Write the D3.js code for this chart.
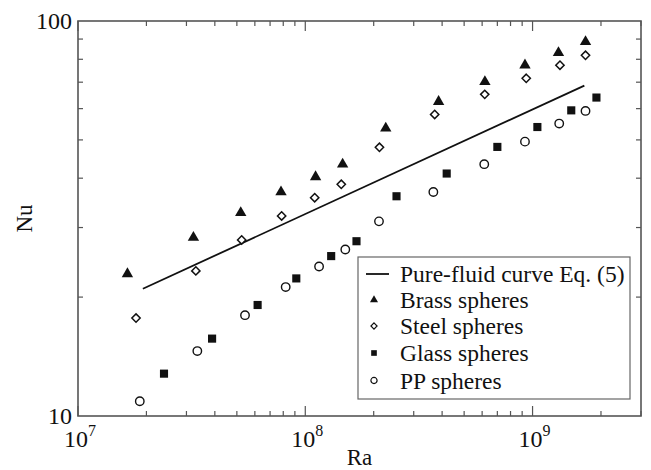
<!DOCTYPE html>
<html>
<head>
<meta charset="utf-8">
<script src="https://cdn.jsdelivr.net/npm/d3@7"></script>
<style>
  body { margin: 0; background: #fff; }
  text { font-family: "Liberation Serif", "Times New Roman", serif; fill: #111; }
</style>
</head>
<body>
<svg id="chart" width="651" height="470"></svg>
<script>
// values
var brassRa = [1.65e7, 3.22e7, 5.20e7, 7.82e7, 1.11e8, 1.46e8, 2.26e8, 3.86e8, 6.17e8, 9.26e8, 1.30e9, 1.71e9],
    brassNu = [22.9, 28.3, 32.7, 36.9, 40.3, 43.4, 53.5, 62.5, 70.2, 77.3, 83.1, 88.6];
var steelRa = [1.80e7, 3.30e7, 5.25e7, 7.87e7, 1.10e8, 1.44e8, 2.12e8, 3.71e8, 6.16e8, 9.38e8, 1.32e9, 1.71e9],
    steelNu = [17.7, 23.3, 27.9, 32.1, 35.7, 38.6, 47.9, 58.0, 65.2, 71.6, 77.3, 81.9];
var glassRa = [2.39e7, 3.89e7, 6.17e7, 9.13e7, 1.30e8, 1.68e8, 2.52e8, 4.19e8, 7.0e8, 1.05e9, 1.48e9, 1.91e9],
    glassNu = [12.8, 15.7, 19.1, 22.3, 25.4, 27.7, 36.0, 41.1, 48.0, 53.9, 59.4, 64.0];
var ppRa = [1.87e7, 3.35e7, 5.43e7, 8.20e7, 1.15e8, 1.50e8, 2.11e8, 3.66e8, 6.13e8, 9.26e8, 1.31e9, 1.71e9],
    ppNu = [10.9, 14.6, 18.0, 21.2, 23.9, 26.4, 31.1, 36.9, 43.4, 49.5, 55.0, 59.2];
var curveRa = [1.93e7, 1.69e9],
    curveNu = [21.0, 68.6];

var xMajor = [1e7, 1e8, 1e9], xMajorExp = ["7", "8", "9"];
var yMajor = [10, 100], yLabels = ["10", "100"];
var legendLabels = ["Pure-fluid curve Eq. (5)", "Brass spheres", "Steel spheres", "Glass spheres", "PP spheres"];

var svg = d3.select("#chart"),
    margin = {top: 21, right: 10, bottom: 54, left: 78},
    width = +svg.attr("width") - margin.left - margin.right,
    height = +svg.attr("height") - margin.top - margin.bottom;

var x = d3.scaleLog().domain([1e7, 3e9]).range([0, width]),
    y = d3.scaleLog().domain([10, 100]).range([height, 0]);

var g = svg.append("g")
    .attr("transform", "translate(" + margin.left + "," + margin.top + ")");

// minor ticks
var xMinor = [];
[1e7, 1e8, 1e9].forEach(function(d) {
  for (var k = 2; k <= 9; k++) if (d * k <= 3e9) xMinor.push(d * k);
});
var yMinor = d3.range(2, 10).map(function(k) { return k * 10; });

var axisColor = "#555";
function tickLines(vals, len, horiz) {
  vals.forEach(function(v) {
    if (horiz) {
      var px = x(v);
      g.append("line").attr("x1", px).attr("x2", px).attr("y1", height).attr("y2", height - len)
        .attr("stroke", axisColor).attr("stroke-width", 1.2);
      g.append("line").attr("x1", px).attr("x2", px).attr("y1", 0).attr("y2", len)
        .attr("stroke", axisColor).attr("stroke-width", 1.2);
    } else {
      var py = y(v);
      g.append("line").attr("x1", 0).attr("x2", len).attr("y1", py).attr("y2", py)
        .attr("stroke", axisColor).attr("stroke-width", 1.2);
      g.append("line").attr("x1", width).attr("x2", width - len).attr("y1", py).attr("y2", py)
        .attr("stroke", axisColor).attr("stroke-width", 1.2);
    }
  });
}
tickLines(xMinor, 5, true);
tickLines(xMajor, 10, true);
tickLines(yMinor, 5, false);

g.append("rect")
    .attr("width", width).attr("height", height)
    .attr("fill", "none").attr("stroke", axisColor).attr("stroke-width", 1.6);

// tick labels
xMajor.forEach(function(v, i) {
  var t = g.append("text")
      .attr("x", x(v) + 2).attr("y", height + 31)
      .attr("text-anchor", "middle")
      .style("font-size", "24px");
  t.append("tspan").text("10");
  t.append("tspan").attr("dy", -11).style("font-size", "16px").text(xMajorExp[i]);
});
yMajor.forEach(function(v, i) {
  g.append("text")
      .attr("x", -6).attr("y", y(v))
      .attr("dy", "0.35em")
      .attr("text-anchor", "end")
      .style("font-size", "24px")
      .text(yLabels[i]);
});

svg.append("text")
    .attr("x", margin.left + width / 2).attr("y", 465)
    .attr("text-anchor", "middle")
    .style("font-size", "23px")
    .text("Ra");
svg.append("text")
    .attr("transform", "translate(32," + (margin.top + height / 2) + ") rotate(-90)")
    .attr("text-anchor", "middle")
    .style("font-size", "23px")
    .text("Nu");

// curve
var line = d3.line()
    .x(function(d) { return x(d[0]); })
    .y(function(d) { return y(d[1]); });
g.append("path")
    .datum(d3.zip(curveRa, curveNu))
    .attr("d", line)
    .attr("fill", "none").attr("stroke", "#111").attr("stroke-width", 1.8);

// markers
var tri = d3.symbol().type(d3.symbolTriangle),
    sq = d3.symbol().type(d3.symbolSquare),
    dia = d3.symbol().type(d3.symbolDiamond2),
    circ = d3.symbol().type(d3.symbolCircle);

function markers(ra, nu, gen, size, fill, stroke, sw) {
  g.selectAll(null)
    .data(d3.zip(ra, nu))
    .enter().append("path")
      .attr("transform", function(d) { return "translate(" + x(d[0]) + "," + y(d[1]) + ")"; })
      .attr("d", gen.size(size)())
      .attr("fill", fill)
      .attr("stroke", stroke)
      .attr("stroke-width", sw);
}
markers(brassRa, brassNu, tri, 56, "#111", "none", 0);
markers(steelRa, steelNu, dia, 44, "#fff", "#111", 1.5);
markers(glassRa, glassNu, sq, 66, "#111", "none", 0);
markers(ppRa, ppNu, circ, 56, "#fff", "#111", 1.4);

// legend
var leg = svg.append("g").attr("transform", "translate(358,257)");
leg.append("rect")
    .attr("width", 272).attr("height", 142)
    .attr("fill", "#fff").attr("stroke", "#666").attr("stroke-width", 1.2);
var rowY = [17, 43, 69, 96, 123.5];
leg.append("line").attr("x1", 8).attr("x2", 31).attr("y1", rowY[0]).attr("y2", rowY[0])
    .attr("stroke", "#111").attr("stroke-width", 1.8);
var legSym = [null,
  {gen: tri, size: 28, fill: "#111", stroke: "none", sw: 0},
  {gen: dia, size: 24, fill: "#fff", stroke: "#111", sw: 1.2},
  {gen: sq, size: 32, fill: "#111", stroke: "none", sw: 0},
  {gen: circ, size: 30, fill: "#fff", stroke: "#111", sw: 1.2}];
legSym.forEach(function(s, i) {
  if (!s) return;
  leg.append("path")
    .attr("transform", "translate(16," + rowY[i] + ")")
    .attr("d", s.gen.size(s.size)())
    .attr("fill", s.fill).attr("stroke", s.stroke).attr("stroke-width", s.sw);
});
legendLabels.forEach(function(t, i) {
  leg.append("text")
    .attr("x", 42).attr("y", rowY[i]).attr("dy", "0.35em")
    .style("font-size", "23.5px")
    .text(t);
});
</script>
</body>
</html>
